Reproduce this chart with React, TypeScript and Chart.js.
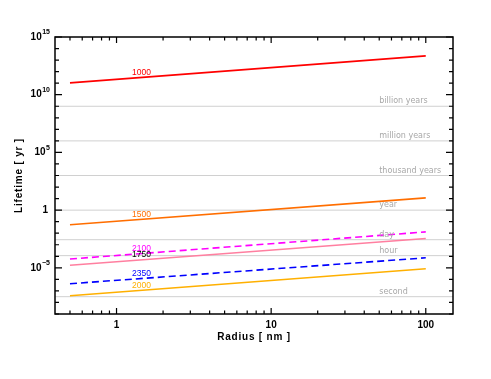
import React, { useEffect, useRef } from "react";
import { Chart, registerables } from "chart.js";

Chart.register(...registerables);

// ---- data ----
const radii = [0.5, 100];
const seriesNames = ["1000", "1500", "2100", "1750", "2350", "2000"];
const life1000 = [1.05e11, 2.3e13];
const life1500 = [0.054, 11.5];
const life2100 = [5.8e-5, 1.3e-2];
const life1750 = [1.7e-5, 3.5e-3];
const life2350 = [4.2e-7, 7.4e-5];
const life2000 = [3.8e-8, 8.3e-6];

const refNames = ["billion years", "million years", "thousand years", "year", "day", "hour", "second"];
const refValues = [1e9, 1e6, 1e3, 1, 2.74e-3, 1.14e-4, 3.17e-8];
const refSpan = [0.4, 150];

const xTickValues = [1, 10, 100];
const xTickLabels = ["1", "10", "100"];
const xMinorValues = [0.5, 0.6, 0.7, 0.8, 0.9, 2, 3, 4, 5, 6, 7, 8, 9, 20, 30, 40, 50, 60, 70, 80, 90];
const yTickValues = [1e-5, 1, 1e5, 1e10, 1e15];
const yTickBase = ["10", "1", "10", "10", "10"];
const yTickSup = ["\u22125", "", "5", "10", "15"];
const yMinorExps = [-9, -8, -7, -6, -4, -3, -2, -1, 1, 2, 3, 4, 6, 7, 8, 9, 11, 12, 13, 14];

const seriesColors = ["#ff0000", "#ff6e00", "#ff00ff", "#ff7fa0", "#0000ff", "#ffb000"];
const labelColors = ["#ff0000", "#ff6e00", "#ff00ff", "#000000", "#0000ff", "#ffb000"];
const seriesDashed = [false, false, true, false, true, false];
const seriesValues = [life1000, life1500, life2100, life1750, life2350, life2000];

const labelRadius = 1.45;
const refLabelRadius = 50;

export default function App() {
  const ref = useRef<HTMLCanvasElement | null>(null);

  useEffect(() => {
    const canvas = ref.current!;
    const datasets: any[] = [];
    refValues.forEach((v, i) => {
      datasets.push({
        label: refNames[i],
        data: refSpan.map((x) => ({ x, y: v })),
        borderColor: "#d0d0d0",
        borderWidth: 1,
        pointRadius: 0,
        order: 10,
      });
    });
    seriesValues.forEach((vals, i) => {
      datasets.push({
        label: seriesNames[i],
        data: radii.map((x, j) => ({ x, y: vals[j] })),
        borderColor: seriesColors[i],
        borderWidth: 1.6,
        borderDash: seriesDashed[i] ? [7, 4] : [],
        pointRadius: 0,
        order: 1,
      });
    });

    const overlay = {
      id: "overlay",
      afterDraw(chart: any) {
        const ctx = chart.ctx as CanvasRenderingContext2D;
        const xs = chart.scales.x;
        const ys = chart.scales.y;
        const { left, right, top, bottom } = chart.chartArea;
        ctx.save();
        // box
        ctx.strokeStyle = "#000";
        ctx.lineWidth = 1.5;
        ctx.strokeRect(left, top, right - left, bottom - top);
        ctx.lineWidth = 1.2;
        // x ticks
        const drawXTick = (v: number, len: number) => {
          const px = xs.getPixelForValue(v);
          ctx.beginPath();
          ctx.moveTo(px, bottom);
          ctx.lineTo(px, bottom - len);
          ctx.moveTo(px, top);
          ctx.lineTo(px, top + len);
          ctx.stroke();
        };
        xTickValues.forEach((v) => drawXTick(v, 6));
        xMinorValues.forEach((v) => drawXTick(v, 3.5));
        // y ticks
        const drawYTick = (v: number, len: number) => {
          const py = ys.getPixelForValue(v);
          ctx.beginPath();
          ctx.moveTo(left, py);
          ctx.lineTo(left + len, py);
          ctx.moveTo(right, py);
          ctx.lineTo(right - len, py);
          ctx.stroke();
        };
        yTickValues.forEach((v) => drawYTick(v, 7));
        yMinorExps.forEach((e) => drawYTick(Math.pow(10, e), 4));

        // tick labels
        ctx.fillStyle = "#000";
        const baseFont = "bold 10px 'Liberation Sans'";
        const supFont = "bold 7px 'Liberation Sans'";
        ctx.textBaseline = "middle";
        yTickValues.forEach((v, i) => {
          const py = ys.getPixelForValue(v);
          const xr = left - 5;
          ctx.font = supFont;
          const sw = yTickSup[i] ? ctx.measureText(yTickSup[i]).width : 0;
          ctx.font = baseFont;
          ctx.textAlign = "right";
          ctx.fillText(yTickBase[i], xr - sw - (sw ? 0.5 : 2), py);
          if (yTickSup[i]) {
            ctx.font = supFont;
            ctx.textAlign = "left";
            ctx.fillText(yTickSup[i], xr - sw, py - 4.5);
          }
        });
        ctx.font = baseFont;
        ctx.textAlign = "center";
        xTickValues.forEach((v, i) => {
          ctx.fillText(xTickLabels[i], xs.getPixelForValue(v), bottom + 11);
        });

        // titles
        ctx.font = "bold 10px 'Liberation Sans'";
        (ctx as any).letterSpacing = "0.8px";
        ctx.fillText("Radius [ nm ]", (left + right) / 2, bottom + 23);
        ctx.save();
        ctx.translate(19, (top + bottom) / 2);
        ctx.rotate(-Math.PI / 2);
        ctx.fillText("Lifetime [ yr ]", 0, 0);
        ctx.restore();
        (ctx as any).letterSpacing = "0px";

        // reference labels
        ctx.font = "8px 'DejaVu Sans'";
        ctx.fillStyle = "#a8a8a8";
        ctx.textAlign = "left";
        refValues.forEach((v, i) => {
          ctx.fillText(refNames[i], xs.getPixelForValue(refLabelRadius), ys.getPixelForValue(v) - 5);
        });

        // series labels
        ctx.font = "8.5px 'Liberation Sans'";
        ctx.textAlign = "center";
        seriesValues.forEach((vals, i) => {
          const x0 = xs.getPixelForValue(radii[0]);
          const x1 = xs.getPixelForValue(radii[1]);
          const y0 = ys.getPixelForValue(vals[0]);
          const y1 = ys.getPixelForValue(vals[1]);
          const lx = xs.getPixelForValue(labelRadius);
          const ly = y0 + ((lx - x0) / (x1 - x0)) * (y1 - y0);
          ctx.fillStyle = labelColors[i];
          ctx.fillText(seriesNames[i], lx, ly - 5);
        });
        ctx.restore();
      },
    };

    const chart = new Chart(canvas, {
      type: "line",
      data: { datasets },
      options: {
        animation: false,
        responsive: false,
        events: [],
        layout: { padding: { top: 37, right: 38, left: 0, bottom: 0 } },
        plugins: { legend: { display: false }, tooltip: { enabled: false } },
        scales: {
          x: {
            type: "logarithmic",
            min: 0.4,
            max: 150,
            grid: { display: false },
            border: { display: false },
            ticks: { display: false },
            afterFit: (s: any) => { s.height = 65; },
          },
          y: {
            type: "logarithmic",
            min: 1e-9,
            max: 1e15,
            grid: { display: false },
            border: { display: false },
            ticks: { display: false },
            afterFit: (s: any) => { s.width = 55; },
          },
        },
      },
      plugins: [overlay],
    } as any);
    return () => chart.destroy();
  }, []);

  return (
    <div style={{ position: "fixed", left: 0, top: 0, width: 491, height: 379, background: "#fff" }}>
      <canvas ref={ref} width={491} height={379} style={{ display: "block" }} />
    </div>
  );
}
